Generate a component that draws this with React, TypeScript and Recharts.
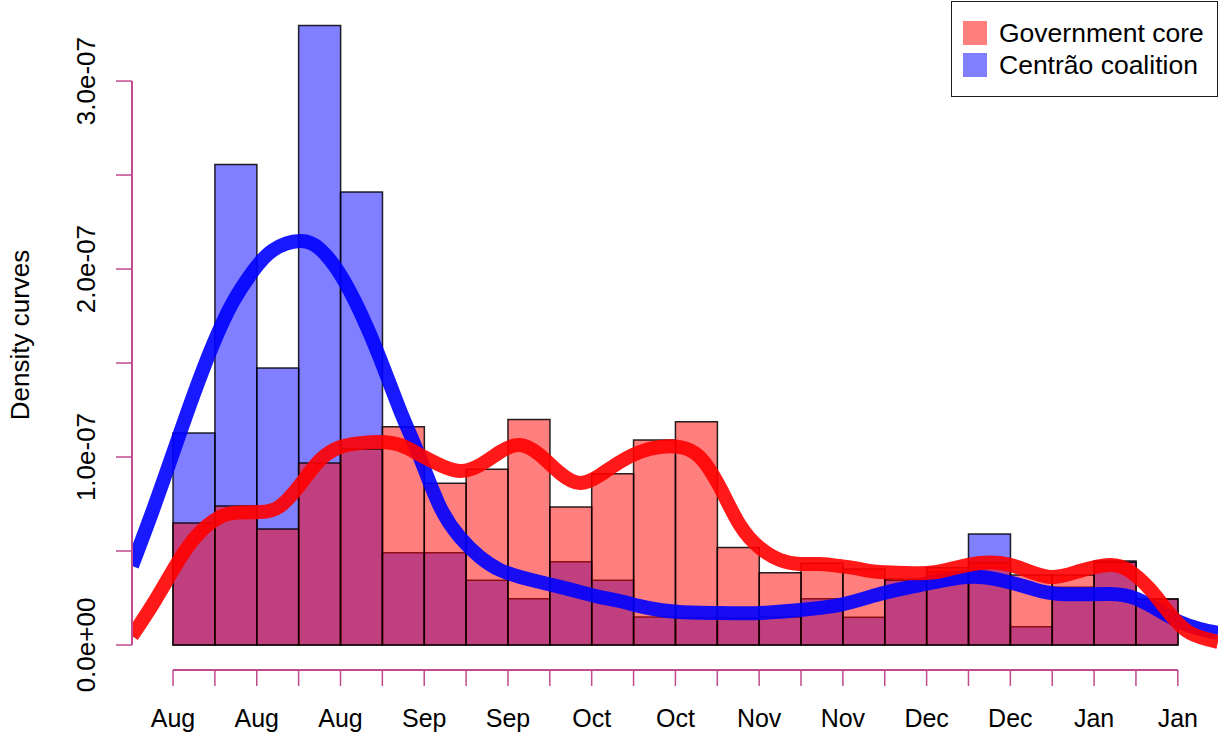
import React from 'react';
import { ComposedChart, Bar, Line, XAxis, YAxis, ReferenceLine, Legend } from 'recharts';

const FONT = '"Liberation Sans", Arial, Helvetica, sans-serif';
const UNIT = 1e-8; // all density values below are in units of 1e-8
const AXIS_COLOR = '#C24A8E';

// histogram bins (bin index centre on the time axis)
const binCenters = [0.5, 1.5, 2.5, 3.5, 4.5, 5.5, 6.5, 7.5, 8.5, 9.5, 10.5, 11.5,
  12.5, 13.5, 14.5, 15.5, 16.5, 17.5, 18.5, 19.5, 20.5, 21.5, 22.5, 23.5];

// histogram densities (x 1e-8)
const govCoreHist = [6.49, 7.39, 6.17, 9.68, 10.43, 11.61, 8.6, 9.35, 12.0, 7.34, 9.11, 10.9,
  11.88, 5.19, 3.85, 4.35, 4.04, 3.51, 4.11, 4.38, 3.72, 3.72, 4.4, 2.45];
const centraoHist = [11.28, 25.56, 14.73, 32.96, 24.1, 4.91, 4.91, 3.44, 2.46, 4.43, 3.44, 1.49,
  1.45, 1.44, 1.49, 2.46, 1.47, 3.45, 3.9, 5.9, 0.97, 3.07, 4.47, 2.45];

// density curves: positions (bin units) and densities (x 1e-8)
const govCurveX = [-0.98, -0.48, 0, 0.48, 0.96, 1.43, 2.08, 2.56, 3.03, 3.51, 3.99, 4.47, 4.94, 5.42,
  5.9, 6.38, 6.85, 7.33, 7.81, 8.29, 8.76, 9.24, 9.72, 10.2, 10.67, 11.15, 11.63, 12.11, 12.58,
  13.06, 13.54, 14.02, 14.5, 14.97, 15.45, 15.93, 16.41, 16.88, 18.01, 18.56, 19.27, 19.75, 20.23,
  20.94, 21.66, 22.38, 22.85, 23.33, 23.81, 24.29, 24.96];
const govCurveY = [0.48, 2.18, 3.99, 5.59, 6.6, 7.02, 7.07, 7.39, 8.51, 9.84, 10.53, 10.74, 10.8, 10.64,
  10.11, 9.57, 9.26, 9.57, 10.27, 10.64, 10.11, 9.15, 8.62, 9.04, 9.73, 10.27, 10.53, 10.53, 10.0,
  8.4, 6.38, 5.16, 4.52, 4.31, 4.31, 4.2, 4.04, 3.88, 3.83, 4.04, 4.36, 4.36, 4.1,
  3.62, 3.94, 4.26, 3.94, 2.98, 1.65, 0.64, 0.16];
const centraoCurveX = [-0.98, -0.48, 0, 0.48, 0.96, 1.43, 1.91, 2.39, 3.03, 3.51, 3.99, 4.47, 4.94, 5.42,
  5.9, 6.38, 6.85, 7.33, 7.81, 8.29, 8.76, 9.24, 9.72, 10.2, 10.67, 11.15, 11.63, 12.11, 13.06,
  14.02, 14.97, 15.93, 16.88, 17.84, 18.96, 19.75, 20.47, 21.18, 22.38, 23.02, 23.57, 24.05, 24.53, 24.96];
const centraoCurveY = [4.2, 7.18, 10.21, 13.24, 16.01, 18.24, 19.89, 21.01, 21.49, 21.06, 19.73, 17.71, 15.27, 12.5,
  9.95, 7.34, 5.74, 4.68, 3.99, 3.62, 3.35, 3.09, 2.82, 2.55, 2.34, 2.07, 1.86, 1.76, 1.7,
  1.7, 1.86, 2.13, 2.71, 3.19, 3.62, 3.46, 3.03, 2.71, 2.71, 2.45, 1.81, 1.22, 0.85, 0.64];

// axes
const xTicks = [0, 1, 2, 3, 4, 5, 6, 7, 8, 9, 10, 11, 12, 13, 14, 15, 16, 17, 18, 19, 20, 21, 22, 23, 24];
const xTickLabels = ['Aug', 'Aug', 'Aug', 'Sep', 'Sep', 'Oct', 'Oct', 'Nov', 'Nov', 'Dec', 'Dec', 'Jan', 'Jan'];
const yTickSteps = [0, 5, 10, 15, 20, 25, 30];
const X_DOMAIN: [number, number] = [-0.98, 24.96];
const Y_DOMAIN: [number, number] = [-1.33 * UNIT, 33.78 * UNIT];

const seriesNames = ['Government core', 'Centrão coalition'];
const seriesColors = ['rgba(255,0,0,0.5)', 'rgba(0,0,255,0.5)'];

const histData = binCenters.map((c, i) => ({ x: c, gov: govCoreHist[i] * UNIT, cen: centraoHist[i] * UNIT }));
const govCurve = govCurveX.map((t, i) => ({ x: t, d: govCurveY[i] * UNIT }));
const centraoCurve = centraoCurveX.map((t, i) => ({ x: t, d: centraoCurveY[i] * UNIT }));
const yTicks = yTickSteps.map((s) => s * UNIT);

const fmtX = (v: number) => (Math.round(v) % 2 === 0 ? xTickLabels[Math.round(v) / 2] : '');
const fmtY = (v: number) => {
  const n = Math.round(v / UNIT);
  if (n === 0) return '0.0e+00';
  return (n / 10).toFixed(1) + 'e-07';
};

const YTick = (props: any) => {
  const { x, y, payload } = props;
  const n = Math.round(payload.value / UNIT);
  if (n % 10 !== 0) return <g />;
  const bx = x - 19;
  return (
    <text x={bx} y={y} transform={`rotate(-90, ${bx}, ${y})`} textAnchor="middle"
      fontSize={26} fontFamily={FONT} fill="#000">{fmtY(payload.value)}</text>
  );
};

const renderYTitle = (props: any) => {
  const vb = props.viewBox || { x: 0, y: 10, width: 132, height: 660 };
  const tx = vb.x + 29;
  const ty = vb.y + vb.height / 2 - 5;
  return (
    <text x={tx} y={ty} transform={`rotate(-90, ${tx}, ${ty})`} textAnchor="middle"
      fontSize={26} fontFamily={FONT} fill="#000">Density curves</text>
  );
};

const renderLegend = () => (
  <div style={{
    width: 267, height: 96, boxSizing: 'border-box', border: '1.5px solid #1a1a1a',
    background: '#fff', position: 'relative', fontFamily: FONT, fontSize: 26.5,
  }}>
    {seriesNames.map((name, i) => (
      <div key={name} style={{
        position: 'absolute', left: 10.5, top: 18.5 + i * 32, height: 24,
        display: 'flex', alignItems: 'center', whiteSpace: 'nowrap',
      }}>
        <span style={{ width: 24, height: 24, background: seriesColors[i], display: 'inline-block' }} />
        <span style={{ marginLeft: 12.5, lineHeight: '24px', color: '#000' }}>{name}</span>
      </div>
    ))}
  </div>
);

export default function App() {
  return (
    <div style={{ position: 'absolute', left: 0, top: 0, background: '#fff' }}>
      <ComposedChart width={1220} height={740} data={histData}
        margin={{ top: 10, right: 2, bottom: 0, left: 0 }} barCategoryGap={0} barGap={0}>
        <XAxis xAxisId="main" type="number" dataKey="x" domain={X_DOMAIN} allowDataOverflow
          ticks={xTicks} interval={0} height={70} tickSize={16} tickMargin={23}
          axisLine={false} tickLine={{ stroke: AXIS_COLOR, strokeWidth: 1.5 }}
          tick={{ fontSize: 25, fill: '#000', fontFamily: FONT }} tickFormatter={fmtX} />
        <XAxis xAxisId="cen" type="number" dataKey="x" domain={X_DOMAIN} allowDataOverflow
          ticks={xTicks} height={0} hide />
        <XAxis xAxisId="gov" type="number" dataKey="x" domain={X_DOMAIN} allowDataOverflow
          ticks={xTicks} height={0} hide />
        <YAxis type="number" domain={Y_DOMAIN} allowDataOverflow ticks={yTicks} interval={0}
          width={132} tickSize={16} axisLine={false}
          tickLine={{ stroke: AXIS_COLOR, strokeWidth: 1.5 }} tick={<YTick />} label={renderYTitle} />
        <Bar xAxisId="cen" dataKey="cen" name={seriesNames[1]} fill={seriesColors[1]}
          stroke="#000" strokeOpacity={0.85} strokeWidth={1.5} isAnimationActive={false} />
        <Bar xAxisId="gov" dataKey="gov" name={seriesNames[0]} fill={seriesColors[0]}
          stroke="#000" strokeOpacity={0.85} strokeWidth={1.5} isAnimationActive={false} />
        <Line xAxisId="main" data={centraoCurve} dataKey="d" type="natural" stroke="#0000FF"
          strokeOpacity={0.9} strokeWidth={14} dot={false} activeDot={false}
          legendType="none" isAnimationActive={false} />
        <Line xAxisId="main" data={govCurve} dataKey="d" type="natural" stroke="#FF0000"
          strokeOpacity={0.9} strokeWidth={14} dot={false} activeDot={false}
          legendType="none" isAnimationActive={false} />
        <ReferenceLine xAxisId="main" segment={[{ x: xTicks[0], y: Y_DOMAIN[0] }, { x: xTicks[xTicks.length - 1], y: Y_DOMAIN[0] }]}
          stroke={AXIS_COLOR} strokeWidth={2} ifOverflow="visible" />
        <ReferenceLine xAxisId="main" segment={[{ x: X_DOMAIN[0], y: yTicks[0] }, { x: X_DOMAIN[0], y: yTicks[yTicks.length - 1] }]}
          stroke={AXIS_COLOR} strokeWidth={2} ifOverflow="visible" />
        <Legend content={renderLegend} layout="vertical" align="center" verticalAlign="middle"
          wrapperStyle={{ left: 951, top: 1, width: 267, height: 96 }} />
      </ComposedChart>
    </div>
  );
}
